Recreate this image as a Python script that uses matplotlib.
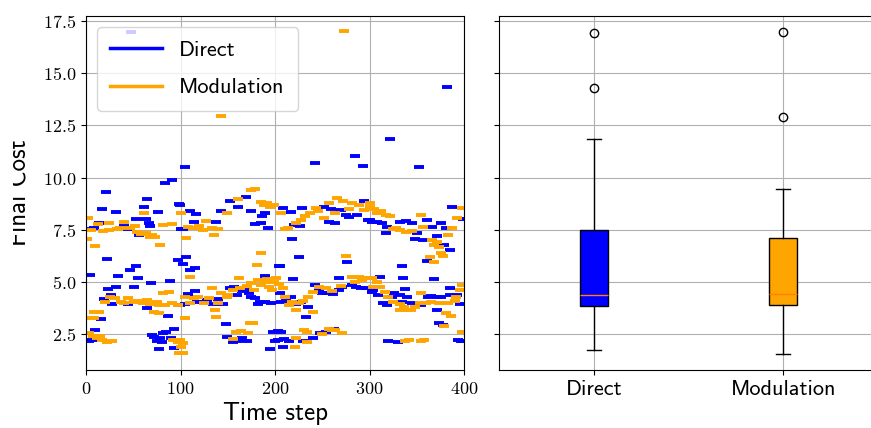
import matplotlib
matplotlib.use('Agg')
import matplotlib.pyplot as plt
from matplotlib.lines import Line2D
from matplotlib.ticker import FuncFormatter
from matplotlib.transforms import Bbox, TransformedBbox

plt.rcParams['mathtext.fontset'] = 'cm'

# ── data ──────────────────────────────────────────────────────
direct_x = [48, 91, 84, 21, 65, 98, 17, 32, 61, 76, 53, 63, 67, 68, 14, 8, 3, 44, 40, 100, 56,
            97, 22, 4, 34, 47, 53, 55, 69, 89, 23, 32, 51, 26, 19, 27, 44, 65, 87, 16,
            10, 3, 6, 72, 75, 80, 82, 93, 77, 93, 70, 78, 85, 90,
            105, 99.5, 110, 116, 152, 161, 169, 175, 143, 114, 138, 103, 189, 186, 185, 179, 193,
            106, 103, 115, 110, 204, 189, 115, 108, 99.5, 105, 117, 124, 134, 145, 152, 157, 168,
            172, 175, 179, 184, 189, 196, 182, 165, 160, 140, 128,
            148, 149, 156, 170, 165, 198, 200, 195, 160,
            285, 293, 242, 208, 217, 229, 252, 259, 270, 275, 278, 287, 294, 298, 303, 220, 226,
            257, 263, 218, 225, 276, 205, 219, 268,
            206, 205, 217, 228, 235, 233, 242, 247, 254, 261, 268, 282, 291, 296, 303, 271, 212,
            222, 250, 286,
            203, 206, 203, 210, 208, 240, 248, 254, 262, 215, 230,
            322, 352, 382, 387, 399, 300, 308, 313, 318, 317, 332, 339, 345, 361, 366, 376, 381,
            350, 348, 357, 371, 379, 385, 361, 334, 335, 311, 368,
            304, 309, 314, 324, 332, 338, 340, 334, 362, 371, 376, 385, 385, 393, 396, 371, 374,
            378, 320, 330, 394, 397, 399, 345, 355, 318, 326, 365]
direct_y = [16.95, 9.88, 9.72, 9.33, 9.0, 8.72, 8.48, 8.37, 8.6, 8.37, 8.0, 8.0, 7.84, 7.68, 7.84,
            7.57, 7.55, 7.54, 7.7, 7.54, 7.25,
            6.06, 6.1, 5.34, 5.29, 5.6, 5.78, 5.18, 4.97, 5.07, 4.65, 4.75, 4.78, 4.38, 4.17, 3.95,
            3.95, 3.74, 3.38, 3.23,
            2.7, 2.2, 2.25, 2.39, 2.2, 2.15, 2.55, 2.74, 1.78, 1.83, 2.45, 2.3, 2.6, 2.3,
            10.52, 8.69, 8.4, 8.26, 8.9, 8.58, 9.09, 8.4, 8.4, 7.9, 7.9, 7.52, 8.32, 8.16, 7.84,
            7.76, 7.57,
            6.18, 5.87, 5.66, 5.58, 5.77, 5.29, 4.59, 4.45, 3.9, 3.95, 4.06, 4.06, 3.95, 3.95, 4.7,
            4.78, 4.62, 4.46, 4.3, 4.22, 4.06, 4.06, 3.98, 3.95, 4.55, 4.4, 4.2, 4.15,
            2.99, 2.36, 2.15, 2.2, 2.3, 2.63, 2.18, 1.78, 2.2,
            11.05, 10.57, 10.68, 8.53, 8.37, 8.53, 8.58, 8.48, 8.45, 8.21, 8.13, 8.21, 8.9, 7.97,
            7.89, 7.73, 7.7, 7.89, 7.84, 7.04, 6.22, 5.98, 5.77, 5.13, 5.18,
            4.06, 4.46, 4.3, 4.06, 3.82, 3.34, 4.86, 4.62, 4.46, 4.43, 4.62, 4.86, 4.7, 4.7, 4.54,
            4.78, 4.1, 3.95, 4.5, 4.75,
            2.66, 2.63, 2.23, 2.26, 1.91, 2.31, 2.58, 2.6, 2.75, 2.2, 2.2,
            11.85, 10.52, 14.32, 8.58, 8.0, 7.97, 7.89, 7.81, 7.62, 7.37, 7.89, 7.94, 7.81, 7.97,
            7.65, 7.81, 7.57, 7.37, 7.05, 7.02, 7.21, 6.78, 6.54, 6.02, 5.77, 5.18, 5.26, 5.13,
            4.62, 4.38, 3.98, 4.3, 4.38, 4.65, 4.3, 4.06, 4.3, 4.3, 4.3, 4.7, 4.38, 4.38, 3.95,
            3.66, 3.03, 2.95, 2.2, 2.15, 2.23, 2.2, 2.2, 4.0, 3.9, 3.9, 4.5, 4.35]

mod_x = [2, 1, 10, 13, 24, 24, 33, 40, 47, 54, 63, 68, 73, 61, 78, 82, 91, 100, 5, 18, 36, 52, 58, 70,
         8, 8, 31, 37, 44, 51, 60, 68, 77, 84, 91, 97, 82, 88, 65, 72, 77, 20, 25, 40, 55, 75, 14, 4,
         7, 12, 17, 22, 28, 3, 15, 95, 98, 97, 92,
         175, 179, 161, 185, 192, 199, 149, 127, 108, 117, 124, 133, 140, 135, 106, 185, 181, 110,
         162, 143, 113, 120, 188, 195,
         105, 114, 119, 130, 133, 143, 149, 156, 163, 175, 182, 189, 194, 199, 136, 138, 105, 110,
         125, 140, 150, 170, 178, 185, 192, 197,
         174, 177, 159, 164, 171, 156, 99.5, 101, 103, 103,
         266, 272, 257, 282, 289, 300, 243, 237, 232, 206, 252, 263, 227, 222, 214, 211, 275, 201,
         273, 246, 278, 294,
         208, 211, 218, 225, 235, 240, 247, 254, 215, 222, 240, 281, 289, 296, 303, 204, 230, 260,
         270, 285, 292,
         231, 234, 257, 264, 271, 222, 234, 221, 260, 250,
         300, 308, 317, 322, 355, 398, 393, 325, 332, 339, 357, 387, 366, 371, 374, 376, 368, 378,
         364, 368, 383, 312, 305, 328, 345,
         300, 398, 304, 311, 316, 320, 325, 332, 332, 339, 344, 337, 355, 353, 365, 374, 383, 392,
         396, 381, 386, 379, 308, 348, 360, 390,
         398, 342, 358, 338, 355]
mod_y = [8.05, 7.05, 6.73, 7.8, 7.84, 7.5, 7.52, 7.88, 7.57, 7.4, 7.37, 7.18, 7.14, 8.33, 6.78, 7.73,
         7.79, 8.3, 7.5, 7.45, 7.6, 7.7, 7.3, 7.25,
         3.58, 3.26, 4.22, 4.06, 4.25, 4.06, 4.02, 3.95, 3.9, 3.9, 4.02, 3.9, 4.46, 4.54, 4.14, 3.58,
         3.5, 4.05, 4.3, 4.0, 4.1, 4.05, 3.55, 3.3,
         2.42, 2.31, 2.23, 2.15, 2.2, 2.55, 2.4, 2.23, 1.6, 2.15, 2.25,
         9.4, 9.45, 8.96, 8.85, 8.8, 8.69, 8.29, 7.92, 7.65, 7.57, 7.5, 7.57, 7.56, 7.25, 7.1, 6.41,
         5.82, 5.26, 5.18, 12.95, 7.6, 7.7, 8.7, 8.6,
         4.3, 4.22, 4.3, 4.22, 4.7, 4.46, 4.3, 4.62, 4.7, 4.94, 5.1, 5.02, 4.78, 5.02, 3.66, 3.35,
         3.3, 4.0, 4.0, 4.0, 4.4, 4.8, 4.6, 4.85, 5.15, 4.6,
         3.06, 3.03, 2.63, 2.66, 2.58, 2.26, 2.23, 1.91, 1.6, 2.1,
         9.01, 8.9, 8.77, 8.77, 8.69, 8.61, 8.53, 8.29, 8.16, 8.29, 8.05, 8.32, 7.97, 7.81, 7.57,
         7.52, 6.26, 5.18, 17.0, 8.4, 8.5, 8.45,
         4.7, 4.3, 4.06, 3.98, 4.3, 4.54, 4.78, 4.7, 3.9, 3.66, 3.58, 5.26, 5.26, 5.18, 5.18, 4.9,
         4.1, 4.55, 4.8, 5.0, 5.1,
         2.71, 2.63, 2.74, 2.71, 2.58, 2.31, 2.15, 1.91, 2.7, 2.5,
         8.77, 8.29, 8.21, 8.16, 8.21, 8.53, 8.05, 7.52, 7.5, 7.41, 7.62, 7.57, 7.02, 6.9, 6.7, 6.38,
         6.78, 6.25, 6.18, 5.98, 7.26, 8.4, 8.5, 7.6, 7.45,
         5.18, 4.86, 4.78, 4.78, 4.54, 4.3, 4.06, 3.95, 3.66, 3.66, 3.66, 3.82, 4.46, 3.98, 4.06,
         3.98, 3.98, 4.3, 4.62, 3.5, 3.39, 2.91, 5.0, 3.8, 4.0, 4.1,
         2.63, 2.23, 2.23, 2.2, 2.2]

# boxplot summary per method
box_labels = ['Direct', 'Modulation']
box_colors = ['blue', 'orange']
box_q1 = [3.85, 3.9]
box_med = [4.37, 4.41]
box_q3 = [7.49, 7.12]
box_whislo = [1.75, 1.54]
box_whishi = [11.83, 9.44]
box_fliers = [[16.92, 14.3], [16.95, 12.91]]

SANS = 'cmss10'

fig = plt.figure(figsize=(8.71, 4.28), dpi=100)
ax1 = fig.add_axes([86 / 871, 1 - 370 / 428, 378 / 871, 354 / 428])
ax2 = fig.add_axes([499 / 871, 1 - 370 / 428, 379 / 871, 354 / 428], sharey=ax1)

# ── left: final cost per time step ───────────────────────────
ax1.plot(direct_x, direct_y, '_', color='blue', ms=7, mew=2.8)
ax1.plot(mod_x, mod_y, '_', color='orange', ms=7, mew=2.8)
ax1.set_xlim(0, 400)
ax1.set_ylim(0.79, 17.74)
ax1.set_xticks([0, 100, 200, 300, 400])
ax1.set_yticks([2.5, 5.0, 7.5, 10.0, 12.5, 15.0, 17.5])
ax1.xaxis.set_major_formatter(FuncFormatter(lambda v, p: f'${v:.0f}$'))
ax1.yaxis.set_major_formatter(FuncFormatter(lambda v, p: f'${v:.1f}$'))
ax1.tick_params(labelsize=13)
ax1.grid(True)
ax1.set_xlabel('Time step', fontfamily=SANS, fontsize=18, labelpad=3)
ylab = ax1.set_ylabel('Final Cost', fontfamily=SANS, fontsize=18)
ax1.yaxis.set_label_coords(-0.145, 0.5)
# the original figure was cropped through the top of this label
ylab.set_clip_box(TransformedBbox(Bbox([[13 / 871, 0], [1, 1]]), fig.transFigure))
ylab.set_clip_on(True)

handles = [Line2D([], [], color='blue', lw=2.5), Line2D([], [], color='orange', lw=2.5)]
ax1.legend(handles, box_labels, loc='upper left', prop={'family': SANS, 'size': 16},
           handlelength=2.3, handletextpad=0.8, labelspacing=0.8, borderpad=0.6)

# ── right: distribution per method ───────────────────────────
stats = []
for i in range(len(box_labels)):
    stats.append(dict(label=box_labels[i], q1=box_q1[i], med=box_med[i], q3=box_q3[i],
                      whislo=box_whislo[i], whishi=box_whishi[i], fliers=box_fliers[i]))
bp = ax2.bxp(stats, patch_artist=True)
for patch, c in zip(bp['boxes'], box_colors):
    patch.set_facecolor(c)
ax2.grid(True)
ax2.tick_params(axis='y', labelleft=False)
for lab in ax2.get_xticklabels():
    lab.set_fontfamily(SANS)
    lab.set_fontsize(16)

fig.savefig('out.png', dpi=100)
